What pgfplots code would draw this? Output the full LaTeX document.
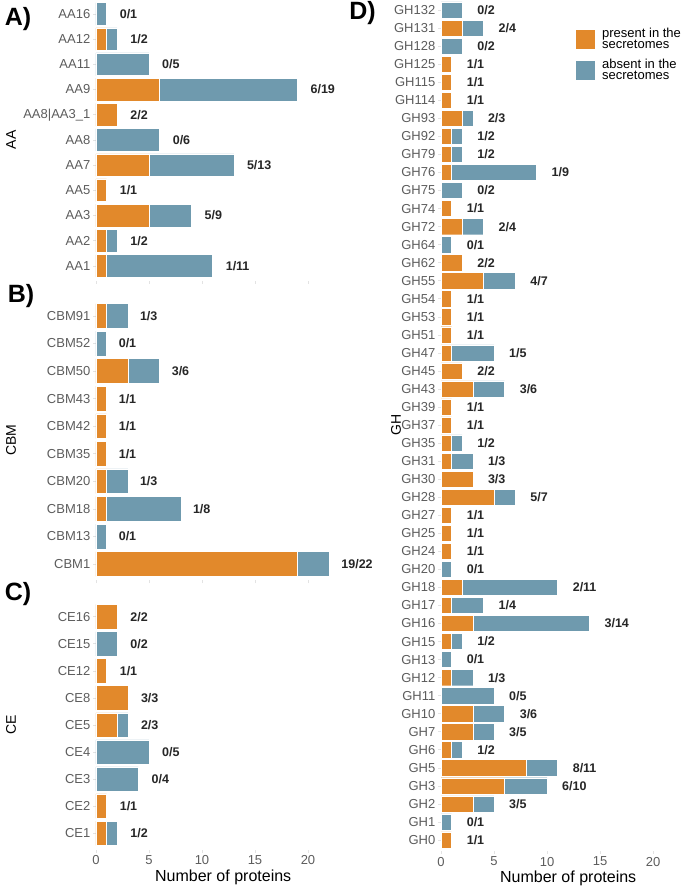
\documentclass[border=0pt]{standalone}
\usepackage{fontspec}
\setmainfont{Liberation Sans}
\usepackage{pgfplots}
\usepackage{pgfplotstable}
\pgfplotsset{compat=1.18}

\definecolor{pres}{HTML}{E2892B}
\definecolor{absn}{HTML}{6F9AAE}
\definecolor{ticktxt}{HTML}{5C5C5C}

% y = position from bottom, p = present, a = absent, t = total
\pgfplotstableread{
y p a t lab
1 1 10 11 1/11
2 1 1 2 1/2
3 5 4 9 5/9
4 1 0 1 1/1
5 5 8 13 5/13
6 0 6 6 0/6
7 2 0 2 2/2
8 6 13 19 6/19
9 0 5 5 0/5
10 1 1 2 1/2
11 0 1 1 0/1
}\tblAA

\pgfplotstableread{
y p a t lab
1 19 3 22 19/22
2 0 1 1 0/1
3 1 7 8 1/8
4 1 2 3 1/3
5 1 0 1 1/1
6 1 0 1 1/1
7 1 0 1 1/1
8 3 3 6 3/6
9 0 1 1 0/1
10 1 2 3 1/3
}\tblCBM

\pgfplotstableread{
y p a t lab
1 1 1 2 1/2
2 1 0 1 1/1
3 0 4 4 0/4
4 0 5 5 0/5
5 2 1 3 2/3
6 3 0 3 3/3
7 1 0 1 1/1
8 0 2 2 0/2
9 2 0 2 2/2
}\tblCE

\pgfplotstableread{
y p a t lab
1 1 0 1 1/1
2 0 1 1 0/1
3 3 2 5 3/5
4 6 4 10 6/10
5 8 3 11 8/11
6 1 1 2 1/2
7 3 2 5 3/5
8 3 3 6 3/6
9 0 5 5 0/5
10 1 2 3 1/3
11 0 1 1 0/1
12 1 1 2 1/2
13 3 11 14 3/14
14 1 3 4 1/4
15 2 9 11 2/11
16 0 1 1 0/1
17 1 0 1 1/1
18 1 0 1 1/1
19 1 0 1 1/1
20 5 2 7 5/7
21 3 0 3 3/3
22 1 2 3 1/3
23 1 1 2 1/2
24 1 0 1 1/1
25 1 0 1 1/1
26 3 3 6 3/6
27 2 0 2 2/2
28 1 4 5 1/5
29 1 0 1 1/1
30 1 0 1 1/1
31 1 0 1 1/1
32 4 3 7 4/7
33 2 0 2 2/2
34 0 1 1 0/1
35 2 2 4 2/4
36 1 0 1 1/1
37 0 2 2 0/2
38 1 8 9 1/9
39 1 1 2 1/2
40 1 1 2 1/2
41 2 1 3 2/3
42 1 0 1 1/1
43 1 0 1 1/1
44 1 0 1 1/1
45 0 2 2 0/2
46 2 2 4 2/4
47 0 2 2 0/2
}\tblGH

\pgfplotsset{
  panel/.style={
    xbar stacked, scale only axis, width=254.4pt,
    xmin=0, xmax=24, bar width=0.9,
    clip=false,
    axis line style={draw=none},
    tick pos=left, tick align=outside, major tick length=3pt,
    tick style={color=gray!22, line width=0.6pt},
    xtick={0,5,10,15,20},
    /pgf/number format/assume math mode=true,
    yticklabel style={font=\fontsize{13}{13}\selectfont, color=ticktxt, inner xsep=2.5pt},
    xticklabel style={font=\fontsize{13}{13}\selectfont, color=ticktxt, inner ysep=1pt, yshift=-2pt},
    ylabel style={font=\fontsize{14}{14}\selectfont, anchor=center},
    xlabel style={font=\fontsize{16}{16}\selectfont, at={(rel axis cs:0.5,0)}, anchor=center, yshift=-28pt},
  },
  over/.style={scale only axis, width=254.4pt, xmin=0, xmax=24, hide axis, clip=false},
  pbar/.style={fill=pres, draw=white, line width=0.4pt},
  abar/.style={fill=absn, draw=white, line width=0.4pt},
  lbl/.style={draw=none, mark=none, nodes near coords, point meta=explicit symbolic,
    every node near coord/.append style={font=\bfseries\fontsize{12.5}{12.5}\selectfont,
      color=black!85, anchor=west, inner sep=0pt, xshift=#1}},
}

\begin{document}
\begin{tikzpicture}
\useasboundingbox (0,0) rectangle (685pt,887pt);

% A) AA
\begin{axis}[panel, at={(96pt,606pt)}, anchor=south west, height=282.2pt,
  ymin=0.4, ymax=11.6, ytick={1,...,11}, xticklabels={},
  yticklabels={AA1,AA2,AA3,AA5,AA7,AA8,AA8|AA3\_1,AA9,AA11,AA12,AA16},
  ylabel={AA}, ylabel style={at={(rel axis cs:-0.334,0.5)}}]
\addplot[pbar] table[x=p, y=y] {\tblAA};
\addplot[abar] table[x=a, y=y] {\tblAA};
\end{axis}
\begin{axis}[over, at={(96pt,606pt)}, anchor=south west, height=282.2pt, ymin=0.4, ymax=11.6]
\addplot[lbl=13pt] table[x=t, y=y, meta=lab] {\tblAA};
\end{axis}

% B) CBM
\begin{axis}[panel, at={(96pt,306.5pt)}, anchor=south west, height=281.1pt,
  ymin=0.4, ymax=10.6, ytick={1,...,10}, xticklabels={},
  yticklabels={CBM1,CBM13,CBM18,CBM20,CBM35,CBM42,CBM43,CBM50,CBM52,CBM91},
  ylabel={CBM}, ylabel style={at={(rel axis cs:-0.334,0.5)}}]
\addplot[pbar] table[x=p, y=y] {\tblCBM};
\addplot[abar] table[x=a, y=y] {\tblCBM};
\end{axis}
\begin{axis}[over, at={(96pt,306.5pt)}, anchor=south west, height=281.1pt, ymin=0.4, ymax=10.6]
\addplot[lbl=12pt] table[x=t, y=y, meta=lab] {\tblCBM};
\end{axis}

% C) CE
\begin{axis}[panel, at={(96pt,37.5pt)}, anchor=south west, height=249.1pt,
  ymin=0.4, ymax=9.6, ytick={1,...,9},
  yticklabels={CE1,CE2,CE3,CE4,CE5,CE8,CE12,CE15,CE16},
  xlabel={Number of proteins},
  ylabel={CE}, ylabel style={at={(rel axis cs:-0.334,0.5)}}]
\addplot[pbar] table[x=p, y=y] {\tblCE};
\addplot[abar] table[x=a, y=y] {\tblCE};
\end{axis}
\begin{axis}[over, at={(96pt,37.5pt)}, anchor=south west, height=249.1pt, ymin=0.4, ymax=9.6]
\addplot[lbl=13pt] table[x=t, y=y, meta=lab] {\tblCE};
\end{axis}

% D) GH
\begin{axis}[panel, at={(441pt,36.2pt)}, anchor=south west, height=851.5pt,
  ymin=0.4, ymax=47.6, ytick={1,...,47},
  yticklabels={GH0,GH1,GH2,GH3,GH5,GH6,GH7,GH10,GH11,GH12,GH13,GH15,GH16,GH17,GH18,GH20,
    GH24,GH25,GH27,GH28,GH30,GH31,GH35,GH37,GH39,GH43,GH45,GH47,GH51,GH53,GH54,GH55,
    GH62,GH64,GH72,GH74,GH75,GH76,GH79,GH92,GH93,GH114,GH115,GH125,GH128,GH131,GH132},
  xlabel={Number of proteins},
  ylabel={GH}, ylabel style={at={(rel axis cs:-0.177,0.5)}},
  legend style={at={(rel axis cs:0.527,0.967)}, anchor=north west, draw=none, fill=none,
    inner sep=0pt, row sep=9pt, column sep=0pt,
    font=\fontsize{13}{11.5}\selectfont,
    nodes={inner sep=0pt},
    cells={anchor=west, align=left}},
  legend image code/.code={\fill[#1] (0pt,-10pt) rectangle (20pt,10pt);},
  legend cell align=left]
\addplot[pbar] table[x=p, y=y] {\tblGH};
\addlegendentry{\hspace{6.5pt}present in the\\\hspace{6.5pt}secretomes}
\addplot[abar] table[x=a, y=y] {\tblGH};
\addlegendentry{\hspace{6.5pt}absent in the\\\hspace{6.5pt}secretomes}
\end{axis}
\begin{axis}[over, at={(441pt,36.2pt)}, anchor=south west, height=851.5pt, ymin=0.4, ymax=47.6]
\addplot[lbl=15pt] table[x=t, y=y, meta=lab] {\tblGH};
\end{axis}

\node[font=\bfseries\fontsize{25}{25}\selectfont] at (18pt,868pt) {A)};
\node[font=\bfseries\fontsize{25}{25}\selectfont] at (21pt,591pt) {B)};
\node[font=\bfseries\fontsize{25}{25}\selectfont] at (18pt,293pt) {C)};
\node[font=\bfseries\fontsize{25}{25}\selectfont] at (362.5pt,873.7pt) {D)};
\end{tikzpicture}
\end{document}
